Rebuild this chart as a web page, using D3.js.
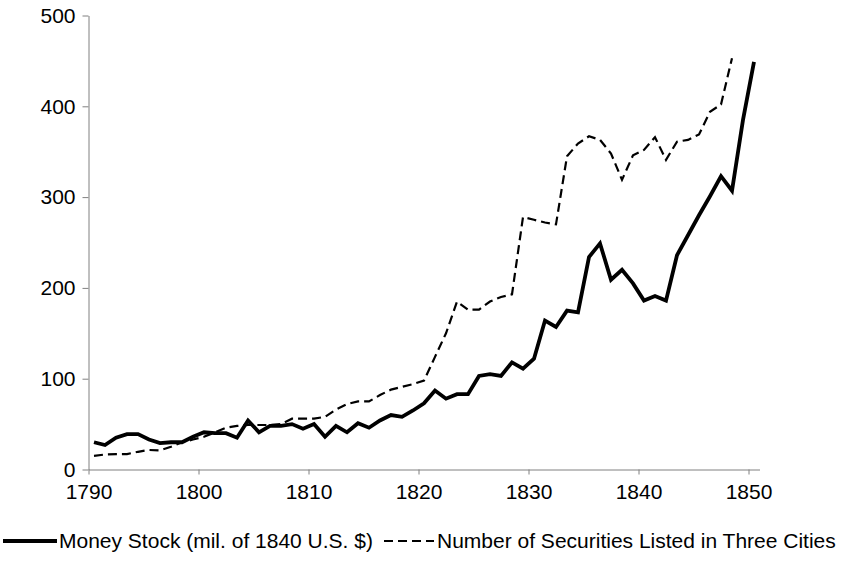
<!DOCTYPE html>
<html>
<head>
<meta charset="utf-8">
<script src="https://cdn.jsdelivr.net/npm/d3@7"></script>
<style>
  body { margin: 0; background: #fff; }
  svg { display: block; font-family: "Liberation Sans", Arial, sans-serif; }
  .axis path, .axis line { stroke: #808080; }
  .axis text { fill: #000; font-size: 21px; }
</style>
</head>
<body>
<svg id="chart"></svg>
<script>
const years = d3.range(1790, 1851)
const moneyStock = [
    30, 27, 35, 39, 39, 33, 29, 30, 30, 36,
    41, 40, 40, 35, 54, 41, 48, 48, 50, 45,
    50, 36, 48, 41, 51, 46, 54, 60, 58, 65,
    73, 87, 78, 83, 83, 103, 105, 103, 118, 111,
    122, 164, 157, 175, 173, 234, 249, 209, 220, 205,
    186, 191, 186, 236, 258, 280, 301, 323, 307, 385,
    449
]
// securities series ends in 1848
const securities = [
    15, 16.5, 17, 17, 19.5, 21.5, 21, 25, 30, 33,
    36, 41, 46, 48, 49, 49, 49, 50, 56, 56,
    56, 58, 66, 72, 75, 75, 82, 88, 91, 94,
    98, 124, 150, 185, 176, 176, 185, 190, 193, 278,
    275, 272, 270, 345, 359, 367, 363, 348, 319, 346,
    352, 366, 341, 361, 363, 369, 394, 402, 453
]
const yTicks = [0, 100, 200, 300, 400, 500]
const xTicks = [1790, 1800, 1810, 1820, 1830, 1840, 1850]
const seriesNames = ['Money Stock (mil. of 1840 U.S. $)', 'Number of Securities Listed in Three Cities']

const width = 841, height = 572
const svg = d3.select('#chart').attr('width', width).attr('height', height)

// category axis: each year occupies one slot, points sit in the slot middle
const x = d3.scaleLinear().domain([1790, 1851]).range([88.5, 759.5])
const y = d3.scaleLinear().domain([0, 500]).range([469.5, 15.5])

svg.append('g')
    .attr('class', 'axis')
    .attr('transform', `translate(0,${ y(0) })`)
    .call(d3.axisBottom(x).tickValues(xTicks).tickFormat(d3.format('d')).tickSize(5).tickSizeOuter(0).tickPadding(10))

svg.append('g')
    .attr('class', 'axis')
    .attr('transform', `translate(${ x(1790) },0)`)
    .call(d3.axisLeft(y).tickValues(yTicks).tickSize(6).tickSizeOuter(0).tickPadding(7))

const line = d3.line().x(d => x(d[0] + 0.5)).y(d => y(d[1]))

svg.append('path')
    .datum(d3.zip(years, moneyStock))
    .attr('fill', 'none')
    .attr('stroke', '#000')
    .attr('stroke-width', 3.8)
    .attr('d', line)

svg.append('path')
    .datum(d3.zip(years, securities))
    .attr('fill', 'none')
    .attr('stroke', '#000')
    .attr('stroke-width', 2.2)
    .attr('stroke-dasharray', '9,5')
    .attr('d', line)

// legend
const legend = svg.append('g').attr('font-size', 21)
const items = [
    { x0: 3, x1: 57, tx: 59, dash: null, w: 3.8 },
    { x0: 384, x1: 434, tx: 437, dash: '9,5', w: 2.2 }
]
items.forEach((it, i) => {
    legend.append('line')
        .attr('x1', it.x0).attr('x2', it.x1)
        .attr('y1', 541).attr('y2', 541)
        .attr('stroke', '#000').attr('stroke-width', it.w)
        .attr('stroke-dasharray', it.dash)
    legend.append('text')
        .attr('x', it.tx).attr('y', 548)
        .text(seriesNames[i])
})
</script>
</body>
</html>
